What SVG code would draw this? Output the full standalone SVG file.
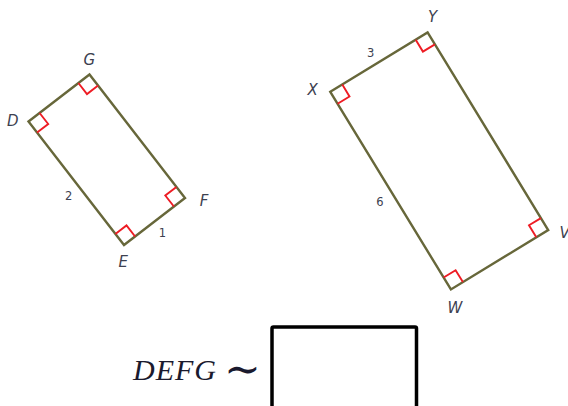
<svg xmlns="http://www.w3.org/2000/svg" width="568" height="406" viewBox="0 0 568 406">
<style>
.edge{fill:none;stroke:#67673a;stroke-width:2.4;stroke-linejoin:miter}
.ra{fill:none;stroke:#ee1c24;stroke-width:1.9}
.lbl{font-family:"DejaVu Sans","Verdana",sans-serif;font-style:italic;font-size:15px;fill:#3d4150;text-anchor:middle}
.num{font-family:"DejaVu Sans","Verdana",sans-serif;font-size:11.5px;fill:#3d4150;text-anchor:middle}
.eq{font-family:"Liberation Serif","Times New Roman",serif;font-style:italic;font-size:30px;fill:#1a1a2e}
</style>
<rect width="568" height="406" fill="#ffffff"/>
<g id="connectors">
  <polygon class="edge" points="28.5,121.5 89.5,74.5 185,198 124,245"/>
  <polygon class="edge" points="330.3,91.8 427.6,32.4 548.2,230 450.9,289.4"/>
</g>
<g id="angle-marks">
  <polyline class="ra" points="39.6,113 48.2,124 37.1,132.6"/>
  <polyline class="ra" points="78.4,83 87,94.1 98.1,85.6"/>
  <polyline class="ra" points="176.4,186.9 165.3,195.5 173.9,206.5"/>
  <polyline class="ra" points="115.4,233.9 126.5,225.4 135.1,236.5"/>
  <polyline class="ra" points="342.3,84.5 349.5,96.5 337.6,103.8"/>
  <polyline class="ra" points="415.7,39.7 422.9,51.6 434.9,44.4"/>
  <polyline class="ra" points="540.9,218.1 529,225.3 536.3,237.3"/>
  <polyline class="ra" points="443.6,277.5 455.6,270.2 462.9,282.1"/>
</g>
<g id="node-D"><text class="lbl" x="12.7" y="125.5">D</text></g>
<g id="node-G"><text class="lbl" x="89.3" y="64.8">G</text></g>
<g id="node-F"><text class="lbl" x="204" y="205.5">F</text></g>
<g id="node-E"><text class="lbl" x="123.3" y="267.2">E</text></g>
<g id="label-DE"><text class="num" x="68.7" y="200">2</text></g>
<g id="label-EF"><text class="num" x="162.3" y="237">1</text></g>
<g id="node-X"><text class="lbl" x="312.7" y="94.8">X</text></g>
<g id="node-Y"><text class="lbl" x="432.7" y="21.5">Y</text></g>
<g id="node-V"><text class="lbl" x="559.5" y="237.8" style="text-anchor:start">V</text></g>
<g id="node-W"><text class="lbl" x="455" y="312.8">W</text></g>
<g id="label-XY"><text class="num" x="370.7" y="57">3</text></g>
<g id="label-XW"><text class="num" x="380" y="206">6</text></g>
<g id="statement">
  <text class="eq" x="133" y="380" letter-spacing="1">DEFG</text>
  <text x="242.5" y="384" font-family="DejaVu Serif, serif" font-size="44" fill="#1a1a2e" text-anchor="middle">∼</text>
  <rect x="272" y="327" width="144.5" height="100" rx="1.5" fill="none" stroke="#000000" stroke-width="3.5"/>
</g>
</svg>
